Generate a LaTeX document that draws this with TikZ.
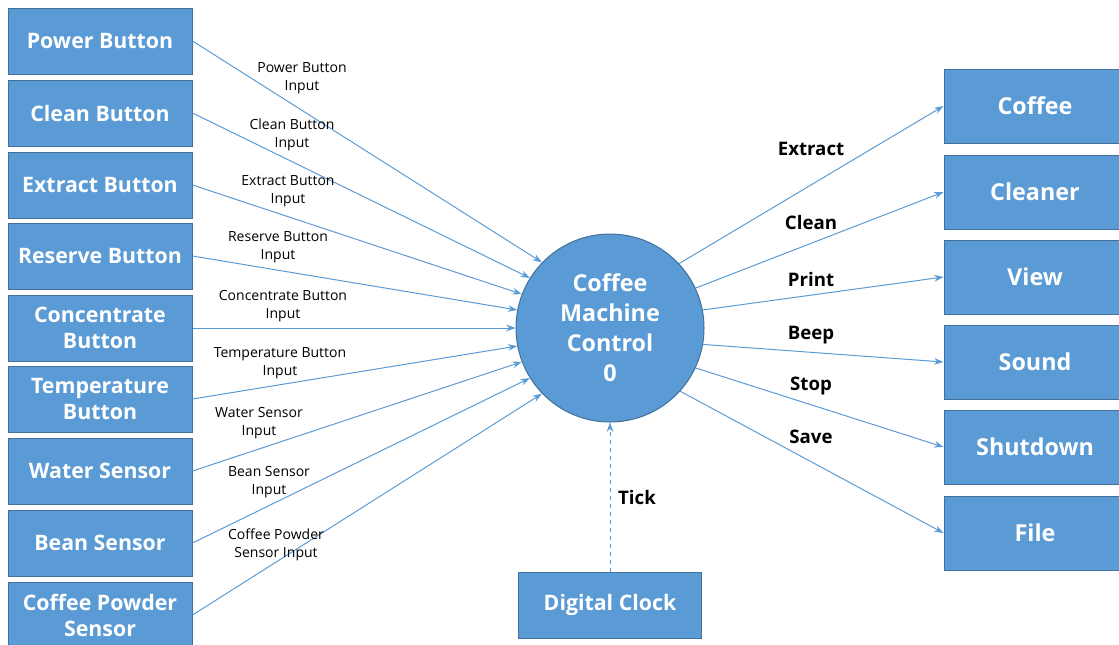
\documentclass[tikz,border=0pt]{standalone}
\usepackage{fontspec}
\setmainfont{Open Sans}
\usetikzlibrary{arrows.meta}

\definecolor{boxblue}{RGB}{91,155,213}
\definecolor{boxedge}{RGB}{65,113,156}

\tikzset{every picture/.style={line width=0.75pt}}
\tikzset{
  inbox/.style={draw=boxedge, fill=boxblue, text=white, align=center, minimum width=138pt, minimum height=49.5pt, inner sep=0pt, font=\fontsize{16}{19.5}\selectfont\bfseries},
  outbox/.style={draw=boxedge, fill=boxblue, text=white, align=center, minimum width=136.5pt, minimum height=55.5pt, inner sep=0pt, font=\fontsize{17.5}{21}\selectfont\bfseries},
  ctrlcircle/.style={circle, draw=boxedge, fill=boxblue, text=white, align=center, minimum size=141pt, inner sep=0pt, font=\fontsize{17.5}{22.5}\selectfont\bfseries},
  flow/.style={draw=boxblue, -{Stealth[length=7pt,width=5pt]}},
  inlbl/.style={align=center, font=\fontsize{10.5}{13.5}\selectfont},
  outlbl/.style={font=\fontsize{14}{16}\selectfont\bfseries}
}

\begin{document}
\begin{tikzpicture}[x=0.75pt,y=0.75pt,yscale=-1,xscale=1]
\useasboundingbox (0,0) rectangle (1119,644);

%Shape: Circle [id:ctrl]
\node[ctrlcircle] (ctrl) at (610,328) {Coffee\\Machine\\Control\\0};

%Shape: Rectangle [id:inputs]
\node[inbox] (power) at (100,41) {Power Button};
\node[inbox] (clean) at (100,113) {Clean Button};
\node[inbox] (extract) at (100,185) {Extract Button};
\node[inbox] (reserve) at (100,256) {Reserve Button};
\node[inbox] (concentrate) at (100,328) {Concentrate\\Button};
\node[inbox] (temperature) at (100,399) {Temperature\\Button};
\node[inbox] (water) at (100,471) {Water Sensor};
\node[inbox] (bean) at (100,543) {Bean Sensor};
\node[inbox] (powder) at (100,615) {Coffee Powder\\Sensor};

%Shape: Rectangle [id:outputs]
\node[outbox] (coffee) at (1035,106) {Coffee};
\node[outbox] (cleaner) at (1035,192) {Cleaner};
\node[outbox] (view) at (1035,277) {View};
\node[outbox] (sound) at (1035,362) {Sound};
\node[outbox] (shutdown) at (1035,447) {Shutdown};
\node[outbox] (file) at (1035,533) {File};

%Shape: Rectangle [id:clock]
\node[inbox, minimum width=137.25pt] (clock) at (610,605) {Digital Clock};

%Straight Lines [id:inflows]
\draw[flow] (power.east) -- (ctrl.136);
\draw[flow] (clean.east) -- (ctrl.148);
\draw[flow] (extract.east) -- (ctrl.159);
\draw[flow] (reserve.east) -- (ctrl.169);
\draw[flow] (concentrate.east) -- (ctrl.180);
\draw[flow] (temperature.east) -- (ctrl.191);
\draw[flow] (water.east) -- (ctrl.201);
\draw[flow] (bean.east) -- (ctrl.212);
\draw[flow] (powder.east) -- (ctrl.224);

%Straight Lines [id:outflows]
\draw[flow] (ctrl.43) -- (coffee.west);
\draw[flow] (ctrl.25) -- (cleaner.west);
\draw[flow] (ctrl.11) -- (view.west);
\draw[flow] (ctrl.-10) -- (sound.west);
\draw[flow] (ctrl.-25) -- (shutdown.west);
\draw[flow] (ctrl.-42) -- (file.west);

%Straight Lines [id:tick]
\draw[flow, dashed] (clock.north) -- (ctrl.south);

% Text Node
\node[inlbl] (powerlbl) at (302,78) {Power Button\\Input};
% Text Node
\node[inlbl] (cleanlbl) at (292,135) {Clean Button\\Input};
% Text Node
\node[inlbl] (extractlbl) at (288,191) {Extract Button\\Input};
% Text Node
\node[inlbl] (reservelbl) at (278,247) {Reserve Button\\Input};
% Text Node
\node[inlbl] (concentratelbl) at (283,306) {Concentrate Button\\Input};
% Text Node
\node[inlbl] (temperaturelbl) at (280,363) {Temperature Button\\Input};
% Text Node
\node[inlbl] (waterlbl) at (259,423) {Water Sensor\\Input};
% Text Node
\node[inlbl] (beanlbl) at (269,482) {Bean Sensor\\Input};
% Text Node
\node[inlbl] (powderlbl) at (276,545) {Coffee Powder\\Sensor Input};

% Text Node
\node[outlbl] (extractout) at (811,149) {Extract};
% Text Node
\node[outlbl] (cleanout) at (811,222) {Clean};
% Text Node
\node[outlbl] (printout) at (811,279) {Print};
% Text Node
\node[outlbl] (beepout) at (811,335) {Beep};
% Text Node
\node[outlbl] (stopout) at (811,386) {Stop};
% Text Node
\node[outlbl] (saveout) at (811,437) {Save};
% Text Node
\node[outlbl] (ticklbl) at (637,497) {Tick};

\end{tikzpicture}
\end{document}
